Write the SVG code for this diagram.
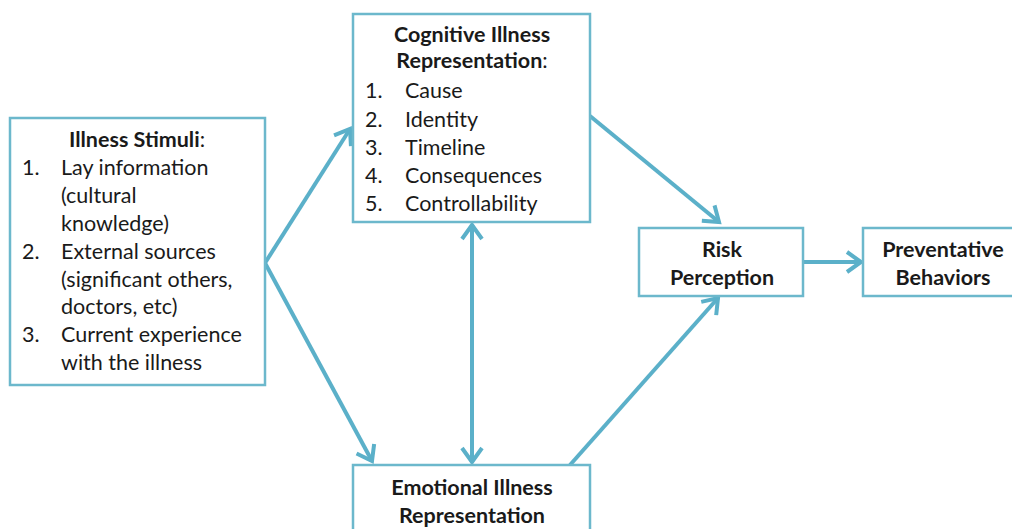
<svg xmlns="http://www.w3.org/2000/svg" width="1012" height="529" viewBox="0 0 1012 529">
<style>
.box{fill:#ffffff;stroke:#6cb8cc;stroke-width:2.5}
.t{font-family:Lato,"Open Sans","Liberation Sans",sans-serif;font-size:21.5px;fill:#1a1a1a}
.b{font-weight:bold}
.c{text-anchor:middle}
.conn{stroke:#5bb0c9;stroke-width:4;fill:none}
</style>
<defs>
<marker id="ah" markerUnits="userSpaceOnUse" viewBox="-20 -12 24 24" refX="0" refY="0" markerWidth="24" markerHeight="24" orient="auto-start-reverse">
<path d="M -14 -10 L 0 0 L -14 10" fill="none" stroke="#5bb0c9" stroke-width="4" stroke-linejoin="miter"/>
</marker>
</defs>
<rect width="1012" height="529" fill="#ffffff"/>
<g id="connectors">
<line class="conn" x1="265" y1="263" x2="350" y2="129" marker-end="url(#ah)"/>
<line class="conn" x1="265" y1="263" x2="372" y2="461" marker-end="url(#ah)"/>
<line class="conn" x1="472" y1="225" x2="472" y2="462" marker-start="url(#ah)" marker-end="url(#ah)"/>
<line class="conn" x1="590" y1="116" x2="719" y2="222" marker-end="url(#ah)"/>
<line class="conn" x1="570" y1="465" x2="718" y2="298" marker-end="url(#ah)"/>
<line class="conn" x1="803" y1="262" x2="861" y2="262" marker-end="url(#ah)"/>
</g>
<g id="illness-stimuli">
<rect class="box" x="10" y="118" width="255" height="267"/>
<text class="t c" x="137" y="147"><tspan class="b">Illness Stimuli</tspan>:</text>
<text class="t" x="22" y="175">1.</text><text class="t" x="61" y="175">Lay information</text>
<text class="t" x="61" y="203">(cultural</text>
<text class="t" x="61" y="231">knowledge)</text>
<text class="t" x="22" y="259">2.</text><text class="t" x="61" y="259">External sources</text>
<text class="t" x="61" y="287">(significant others,</text>
<text class="t" x="61" y="314">doctors, etc)</text>
<text class="t" x="22" y="342">3.</text><text class="t" x="61" y="342">Current experience</text>
<text class="t" x="61" y="370">with the illness</text>
</g>
<g id="cognitive">
<rect class="box" x="353" y="14" width="237" height="208"/>
<text class="t c b" x="472" y="42">Cognitive Illness</text>
<text class="t c" x="472" y="68"><tspan class="b">Representation</tspan>:</text>
<text class="t" x="365" y="98">1.</text><text class="t" x="405" y="98">Cause</text>
<text class="t" x="365" y="127">2.</text><text class="t" x="405" y="127">Identity</text>
<text class="t" x="365" y="155">3.</text><text class="t" x="405" y="155">Timeline</text>
<text class="t" x="365" y="183">4.</text><text class="t" x="405" y="183">Consequences</text>
<text class="t" x="365" y="211">5.</text><text class="t" x="405" y="211">Controllability</text>
</g>
<g id="emotional">
<rect class="box" x="353" y="465" width="237" height="80"/>
<text class="t c b" x="472" y="495">Emotional Illness</text>
<text class="t c b" x="472" y="523">Representation</text>
</g>
<g id="risk">
<rect class="box" x="639" y="228" width="164" height="68"/>
<text class="t c b" x="722" y="257">Risk</text>
<text class="t c b" x="722" y="285">Perception</text>
</g>
<g id="preventative">
<rect class="box" x="863" y="228" width="160" height="68"/>
<text class="t c b" x="943" y="257">Preventative</text>
<text class="t c b" x="943" y="285">Behaviors</text>
</g>
</svg>
